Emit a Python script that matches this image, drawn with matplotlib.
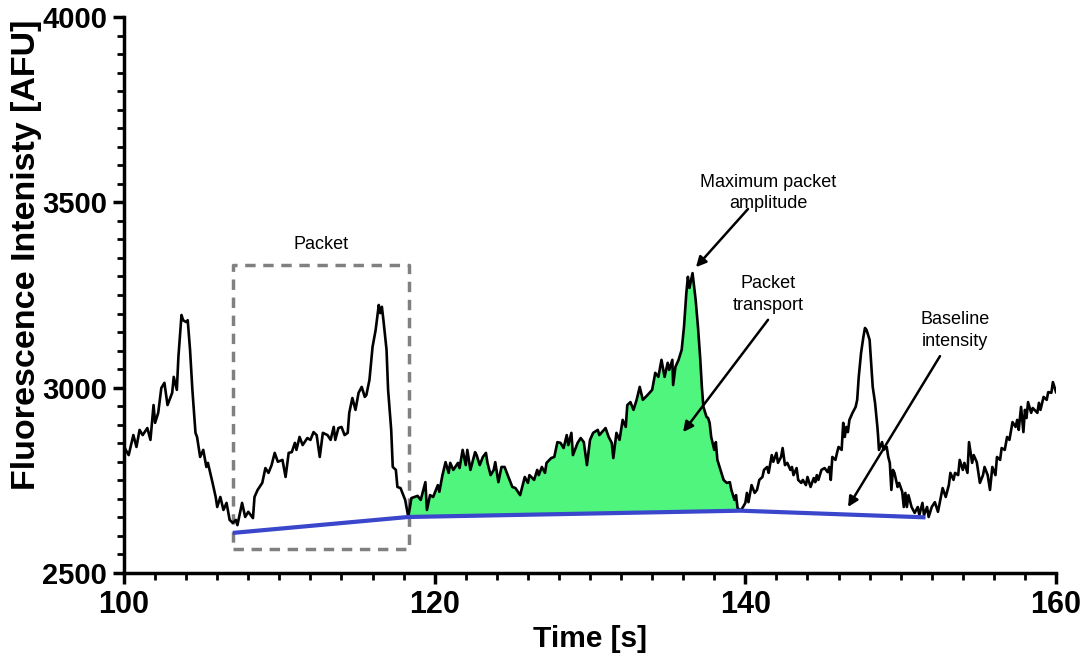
import numpy as np
import matplotlib
matplotlib.use("Agg")
import matplotlib.pyplot as plt

plt.rcParams['font.family'] = ['Liberation Sans', 'DejaVu Sans']

# Fluorescence trace (time in s, intensity in AFU)
time_s = [
    100.0, 100.3, 100.6, 100.8, 101.0, 101.2, 101.5, 101.7, 101.9, 102.0,
    102.2, 102.4, 102.6, 102.8, 103.1, 103.2, 103.4, 103.5, 103.7, 103.8,
    104.0, 104.1, 104.25, 104.4, 104.6, 104.7, 104.9, 105.1, 105.3, 105.4,
    105.7, 105.9, 106.0, 106.2, 106.4, 106.6, 106.8, 107.0, 107.2, 107.3,
    107.6, 107.8, 108.0, 108.3, 108.4, 108.6, 108.9, 109.1, 109.3, 109.5,
    109.7, 109.9, 110.2, 110.4, 110.6, 110.8, 111.0, 111.1, 111.3, 111.5,
    111.8, 112.0, 112.2, 112.4, 112.6, 112.8, 113.1, 113.3, 113.5, 113.6,
    113.8, 114.0, 114.2, 114.4, 114.5, 114.7, 114.9, 115.1, 115.3, 115.5,
    115.6, 115.8, 116.0, 116.2, 116.4, 116.5, 116.6, 116.7, 116.9, 117.0,
    117.2, 117.3, 117.5, 117.6, 117.8, 118.1, 118.3, 118.5, 118.9, 119.1,
    119.4, 119.5, 119.7, 119.9, 120.2, 120.3, 120.5, 120.7, 120.9, 121.0,
    121.2, 121.5, 121.6, 121.8, 122.0, 122.1, 122.3, 122.6, 122.7, 122.9,
    123.1, 123.3, 123.4, 123.6, 123.8, 123.9, 124.1, 124.3, 124.5, 124.7,
    125.0, 125.2, 125.5, 125.8, 126.0, 126.1, 126.4, 126.6, 126.7, 126.9,
    127.1, 127.2, 127.5, 127.7, 127.9, 128.1, 128.3, 128.5, 128.6, 128.8,
    128.9, 129.2, 129.4, 129.6, 129.8, 130.0, 130.2, 130.5, 130.6, 131.0,
    131.2, 131.4, 131.5, 131.7, 131.9, 132.1, 132.3, 132.4, 132.6, 132.8,
    133.0, 133.2, 133.4, 133.7, 134.0, 134.2, 134.4, 134.6, 134.8, 135.0,
    135.1, 135.3, 135.35, 135.5, 135.7, 135.9, 136.05, 136.2, 136.3, 136.4,
    136.6, 136.7, 136.8, 136.95, 137.1, 137.2, 137.3, 137.5, 137.6, 137.7,
    137.8, 138.0, 138.1, 138.2, 138.4, 138.6, 138.8, 139.0, 139.1, 139.3,
    139.4, 139.5, 139.7, 139.85, 140.0, 140.1, 140.2, 140.4, 140.6, 140.75,
    140.9, 141.1, 141.2, 141.4, 141.5, 141.7, 141.8, 142.0, 142.1, 142.3,
    142.4, 142.55, 142.7, 142.9, 143.0, 143.1, 143.3, 143.4, 143.6, 143.7,
    143.9, 144.0, 144.2, 144.4, 144.5, 144.6, 144.7, 144.9, 145.1, 145.3,
    145.4, 145.5, 145.6, 145.8, 145.9, 146.0, 146.2, 146.3, 146.4, 146.5,
    146.6, 146.7, 146.9, 147.1, 147.2, 147.3, 147.45, 147.6, 147.7, 147.8,
    148.0, 148.1, 148.2, 148.35, 148.5, 148.55, 148.6, 148.8, 148.9, 149.1,
    149.2, 149.3, 149.4, 149.5, 149.6, 149.8, 149.9, 150.1, 150.2, 150.3,
    150.4, 150.5, 150.7, 150.9, 151.1, 151.2, 151.4, 151.5, 151.7, 151.8,
    152.0, 152.2, 152.4, 152.7, 152.9, 153.1, 153.2, 153.4, 153.5, 153.7,
    153.8, 154.0, 154.1, 154.3, 154.4, 154.6, 154.7, 154.9, 155.1, 155.3,
    155.4, 155.6, 155.75, 155.9, 156.1, 156.2, 156.4, 156.5, 156.7, 156.85,
    157.0, 157.2, 157.4, 157.5, 157.6, 157.75, 157.9, 158.0, 158.1, 158.2,
    158.4, 158.5, 158.8, 158.9, 159.0, 159.2, 159.4, 159.5, 159.7, 159.8,
    160.0,
]
intensity = [
    2840, 2818, 2872, 2840, 2886, 2872, 2891, 2859, 2953, 2905,
    2932, 2999, 3013, 2953, 2986, 3029, 2994, 3083, 3196, 3182,
    3177, 3182, 3102, 2994, 2878, 2867, 2813, 2832, 2786, 2797,
    2743, 2705, 2678, 2705, 2670, 2689, 2643, 2635, 2643, 2629,
    2689, 2651, 2665, 2648, 2705, 2724, 2743, 2783, 2770, 2791,
    2824, 2800, 2805, 2759, 2824, 2826, 2851, 2832, 2867, 2845,
    2864, 2859, 2880, 2872, 2813, 2878, 2872, 2859, 2894, 2859,
    2891, 2894, 2872, 2878, 2932, 2972, 2940, 2986, 3002, 2975,
    2980, 3021, 3110, 3156, 3223, 3201, 3218, 3182, 3102, 2994,
    2886, 2786, 2778, 2732, 2729, 2697, 2651, 2702, 2708, 2697,
    2745, 2670, 2710, 2705, 2737, 2719, 2764, 2799, 2770, 2797,
    2778, 2797, 2783, 2832, 2791, 2832, 2778, 2826, 2818, 2791,
    2813, 2824, 2797, 2764, 2778, 2799, 2745, 2786, 2786, 2764,
    2732, 2729, 2710, 2759, 2743, 2764, 2751, 2778, 2764, 2786,
    2770, 2797, 2810, 2813, 2853, 2851, 2837, 2872, 2845, 2878,
    2818, 2851, 2864, 2853, 2791, 2859, 2878, 2886, 2872, 2891,
    2867, 2851, 2810, 2878, 2859, 2913, 2894, 2953, 2961, 2940,
    2967, 3002, 2967, 2980, 2994, 3040, 3029, 3075, 3029, 3067,
    3048, 3075, 3007, 3056, 3075, 3102, 3164, 3255, 3299, 3269,
    3309, 3272, 3237, 3164, 3075, 3002, 2948, 2921, 2918, 2905,
    2867, 2832, 2853, 2805, 2778, 2751, 2743, 2745, 2724, 2697,
    2710, 2675, 2668, 2678, 2689, 2716, 2691, 2737, 2716, 2724,
    2751, 2759, 2778, 2786, 2770, 2818, 2800, 2824, 2797, 2813,
    2837, 2791, 2797, 2778, 2786, 2764, 2783, 2751, 2743, 2751,
    2737, 2759, 2732, 2756, 2745, 2764, 2751, 2778, 2783, 2772,
    2786, 2751, 2813, 2805, 2824, 2840, 2832, 2905, 2867, 2894,
    2880, 2913, 2932, 2948, 2967, 3029, 3094, 3137, 3161, 3156,
    3129, 3067, 3002, 2959, 2894, 2867, 2832, 2853, 2832, 2840,
    2813, 2797, 2724, 2778, 2770, 2732, 2743, 2719, 2678, 2716,
    2678, 2710, 2678, 2662, 2678, 2656, 2689, 2656, 2678, 2651,
    2678, 2691, 2665, 2729, 2705, 2737, 2770, 2751, 2770, 2764,
    2805, 2778, 2797, 2770, 2853, 2797, 2818, 2799, 2743, 2764,
    2786, 2764, 2724, 2786, 2764, 2813, 2805, 2837, 2832, 2867,
    2859, 2907, 2894, 2913, 2886, 2948, 2880, 2940, 2918, 2961,
    2932, 2945, 2932, 2959, 2940, 2975, 2967, 2988, 2986, 3015,
    2988,
]

# Baseline anchor points joining the trace minima
baseline_t = [107.0, 118.3, 139.7, 151.6]
baseline_v = [2608, 2651, 2668, 2650]

# Packet transport region
packet_start, packet_end = 118.3, 139.7

# Packet box
box_t = [107.0, 118.35]
box_v = [2565, 3331]

t = np.array(time_s)
y = np.array(intensity)

fig = plt.figure(figsize=(10.88, 6.67), dpi=100)
ax = fig.add_axes([0.114, 0.141, 0.8566, 0.8335])

base_at_t = np.interp(t, baseline_t, baseline_v)
mask = (t >= packet_start) & (t <= packet_end)
ax.fill_between(t, y, base_at_t, where=mask, color='#50f57e', linewidth=0, zorder=1)

ax.plot(t, y, color='black', lw=1.9, zorder=3)
ax.plot(baseline_t, baseline_v, color='#3a46cc', lw=3, zorder=4, solid_capstyle='butt')

# dashed rectangle around one packet
ax.plot([box_t[0], box_t[1], box_t[1], box_t[0], box_t[0]],
        [box_v[0], box_v[0], box_v[1], box_v[1], box_v[0]],
        color='#808080', lw=2.5, ls=(0, (3, 2.2)), zorder=2)
ax.text(sum(box_t) / 2, 3385, 'Packet', ha='center', va='center', fontsize=13)

# labels and their arrows
txt = dict(ha='center', va='center', fontsize=13, linespacing=1.35)
ax.text(141.46, 3525, 'Maximum packet\namplitude', **txt)
ax.text(141.46, 3251, 'Packet\ntransport', **txt)
ax.text(153.5, 3154, 'Baseline\nintensity', **txt)

arrow = dict(arrowstyle='-|>', color='black', lw=1.8, mutation_scale=15, shrinkA=0, shrinkB=0)
ax.annotate('', xy=(136.82, 3325), xytext=(140.17, 3482), arrowprops=arrow)
ax.annotate('', xy=(135.99, 2880), xytext=(141.46, 3183), arrowprops=arrow)
ax.annotate('', xy=(146.61, 2678), xytext=(152.53, 3085), arrowprops=arrow)

ax.set_xlim(100, 160)
ax.set_ylim(2500, 4000)
ax.set_xticks([100, 120, 140, 160])
ax.set_xticks(np.arange(100, 161, 2), minor=True)
ax.set_yticks([2500, 3000, 3500, 4000])
ax.set_yticks(np.arange(2500, 4001, 50), minor=True)

for s in ['top', 'right']:
    ax.spines[s].set_visible(False)
for s in ['left', 'bottom']:
    ax.spines[s].set_linewidth(2.5)

ax.tick_params(which='major', length=8, width=2.5, pad=4)
ax.tick_params(axis='x', which='major', labelsize=22)
ax.tick_params(axis='y', which='major', labelsize=21)
ax.tick_params(which='minor', length=5, width=2)
for lbl in ax.get_xticklabels() + ax.get_yticklabels():
    lbl.set_fontweight('bold')

ax.set_xlabel('Time [s]', fontsize=21.5, fontweight='bold', labelpad=4)
ax.set_ylabel('Fluorescence Intenisty [AFU]', fontsize=24.5, fontweight='bold')
ax.yaxis.set_label_coords(-0.088, 0.573)

fig.savefig('out.png', dpi=100)
